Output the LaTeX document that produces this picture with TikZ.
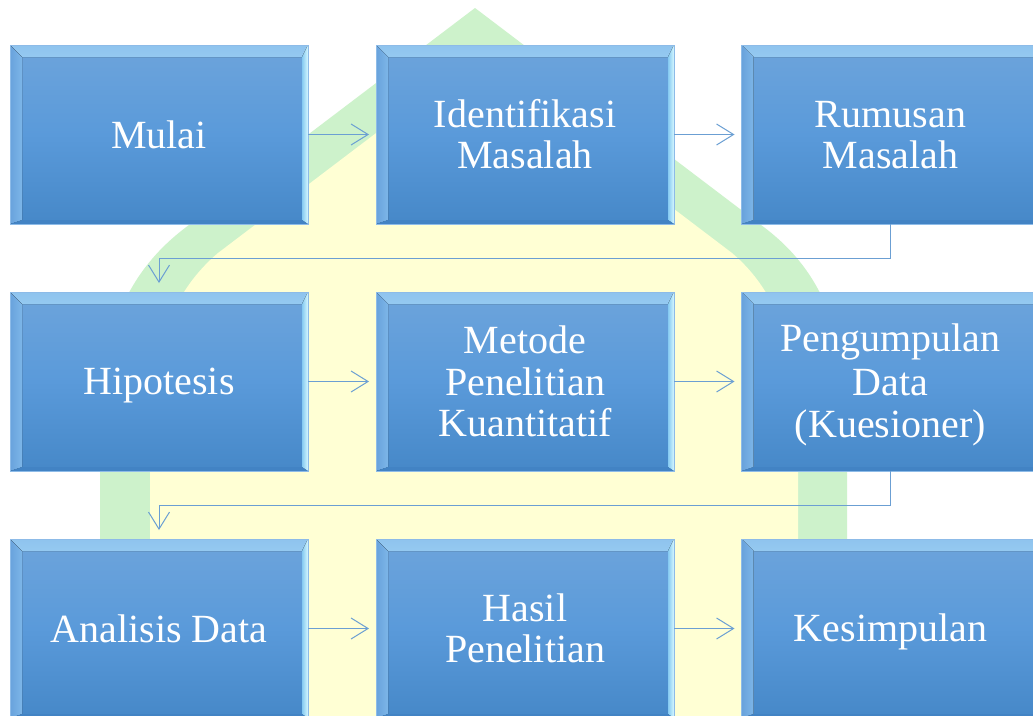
\documentclass[tikz,border=0pt]{standalone}
\usepackage{fontspec}
\setmainfont{Liberation Serif}
\usetikzlibrary{arrows.meta}
\definecolor{wmgreen}{HTML}{CDF2CB}
\definecolor{wmyellow}{HTML}{FFFFD4}
\definecolor{boxtop}{HTML}{6DA4DB}
\definecolor{boxmid}{HTML}{5A9ADA}
\definecolor{boxbot}{HTML}{4688C8}
\definecolor{boxedge}{HTML}{8DBBE8}
\definecolor{bevtopa}{HTML}{8FC3EE}
\definecolor{bevtopm}{HTML}{B8F0FE}
\definecolor{bevtopb}{HTML}{78B0E2}
\definecolor{bevlefta}{HTML}{68A2DC}
\definecolor{bevleftb}{HTML}{7DB6E8}
\definecolor{bevrighta}{HTML}{86CAF2}
\definecolor{bevrightb}{HTML}{D6F8FF}
\definecolor{bevbot}{HTML}{4283C4}
\definecolor{arrcol}{HTML}{6B9FD3}
\newcommand{\lstrut}{\rule[-7.25pt]{0pt}{41.5pt}}
\tikzset{
  bevelbox/.style={draw=boxedge, line width=0.8pt, minimum width=298pt, minimum height=179pt,
    inner sep=0pt, outer sep=0pt, align=center, text=white,
    font=\fontsize{40}{41.5}\selectfont,
    top color=boxtop, bottom color=boxbot, middle color=boxmid,
    path picture={
      \fill[top color=bevtopa, bottom color=bevtopb, middle color=bevtopm]
        (path picture bounding box.north west) -- (path picture bounding box.north east)
        -- ([xshift=-6pt,yshift=-12pt]path picture bounding box.north east)
        -- ([xshift=12pt,yshift=-12pt]path picture bounding box.north west) -- cycle;
      \fill[left color=bevlefta, right color=bevleftb]
        (path picture bounding box.north west)
        -- ([xshift=12pt,yshift=-12pt]path picture bounding box.north west)
        -- ([xshift=12pt,yshift=4pt]path picture bounding box.south west)
        -- (path picture bounding box.south west) -- cycle;
      \fill[left color=bevrighta, right color=bevrightb]
        (path picture bounding box.north east)
        -- ([xshift=-6pt,yshift=-12pt]path picture bounding box.north east)
        -- ([xshift=-6pt,yshift=4pt]path picture bounding box.south east)
        -- (path picture bounding box.south east) -- cycle;
      \fill[bevbot]
        (path picture bounding box.south west)
        -- ([xshift=12pt,yshift=4pt]path picture bounding box.south west)
        -- ([xshift=-6pt,yshift=4pt]path picture bounding box.south east)
        -- (path picture bounding box.south east) -- cycle;
    }},
  arr/.style={draw=arrcol, line width=1pt,
    -{Straight Barb[length=17pt,width=21pt]}},
}
\begin{document}
\begin{tikzpicture}[x=1pt,y=-1pt]
\useasboundingbox (0,0) rectangle (1033,715);
\clip (0,0) rectangle (1033,715);
\fill[white] (0,0) rectangle (1033,715);
% watermark
\fill[wmgreen] (100,720) -- (100,430) .. controls (100,330) and (130,270) .. (185,228)
  -- (475,8) -- (765,228) .. controls (820,270) and (847,330) .. (847,430) -- (847,720) -- cycle;
\fill[wmyellow] (150,720) -- (150,440) .. controls (150,350) and (172,292) .. (218,253)
  -- (475,58) -- (732,253) .. controls (778,292) and (798,350) .. (798,440) -- (798,720) -- cycle;
% boxes
\node[bevelbox] (n1) at (159,134.5) {\lstrut Mulai};
\node[bevelbox] (n2) at (525,134.5) {\lstrut Identifikasi\\\lstrut Masalah};
\node[bevelbox] (n3) at (890.5,134.5) {\lstrut Rumusan\\\lstrut Masalah};
\node[bevelbox] (n4) at (159,381.5) {\lstrut Hipotesis};
\node[bevelbox] (n5) at (525,381.5) {\lstrut Metode\\\lstrut Penelitian\\\lstrut Kuantitatif};
\node[bevelbox] (n6) at (890.5,381.5) {\lstrut Pengumpulan\\\lstrut Data\\\lstrut (Kuesioner)};
\node[bevelbox] (n7) at (159,628.5) {\lstrut Analisis Data};
\node[bevelbox] (n8) at (525,628.5) {\lstrut Hasil\\\lstrut Penelitian};
\node[bevelbox] (n9) at (890.5,628.5) {\lstrut Kesimpulan};
% connectors
\coordinate (k1) at (159,258);
\coordinate (k2) at (159,505);
\draw[arr, shorten >=7pt] (n1.east) -- (n2.west);
\draw[arr, shorten >=7pt] (n2.east) -- (n3.west);
\draw[arr, shorten >=9pt] (n3.south) |- (k1) -- (n4.north);
\draw[arr, shorten >=7pt] (n4.east) -- (n5.west);
\draw[arr, shorten >=7pt] (n5.east) -- (n6.west);
\draw[arr, shorten >=9pt] (n6.south) |- (k2) -- (n7.north);
\draw[arr, shorten >=7pt] (n7.east) -- (n8.west);
\draw[arr, shorten >=7pt] (n8.east) -- (n9.west);
\end{tikzpicture}
\end{document}
